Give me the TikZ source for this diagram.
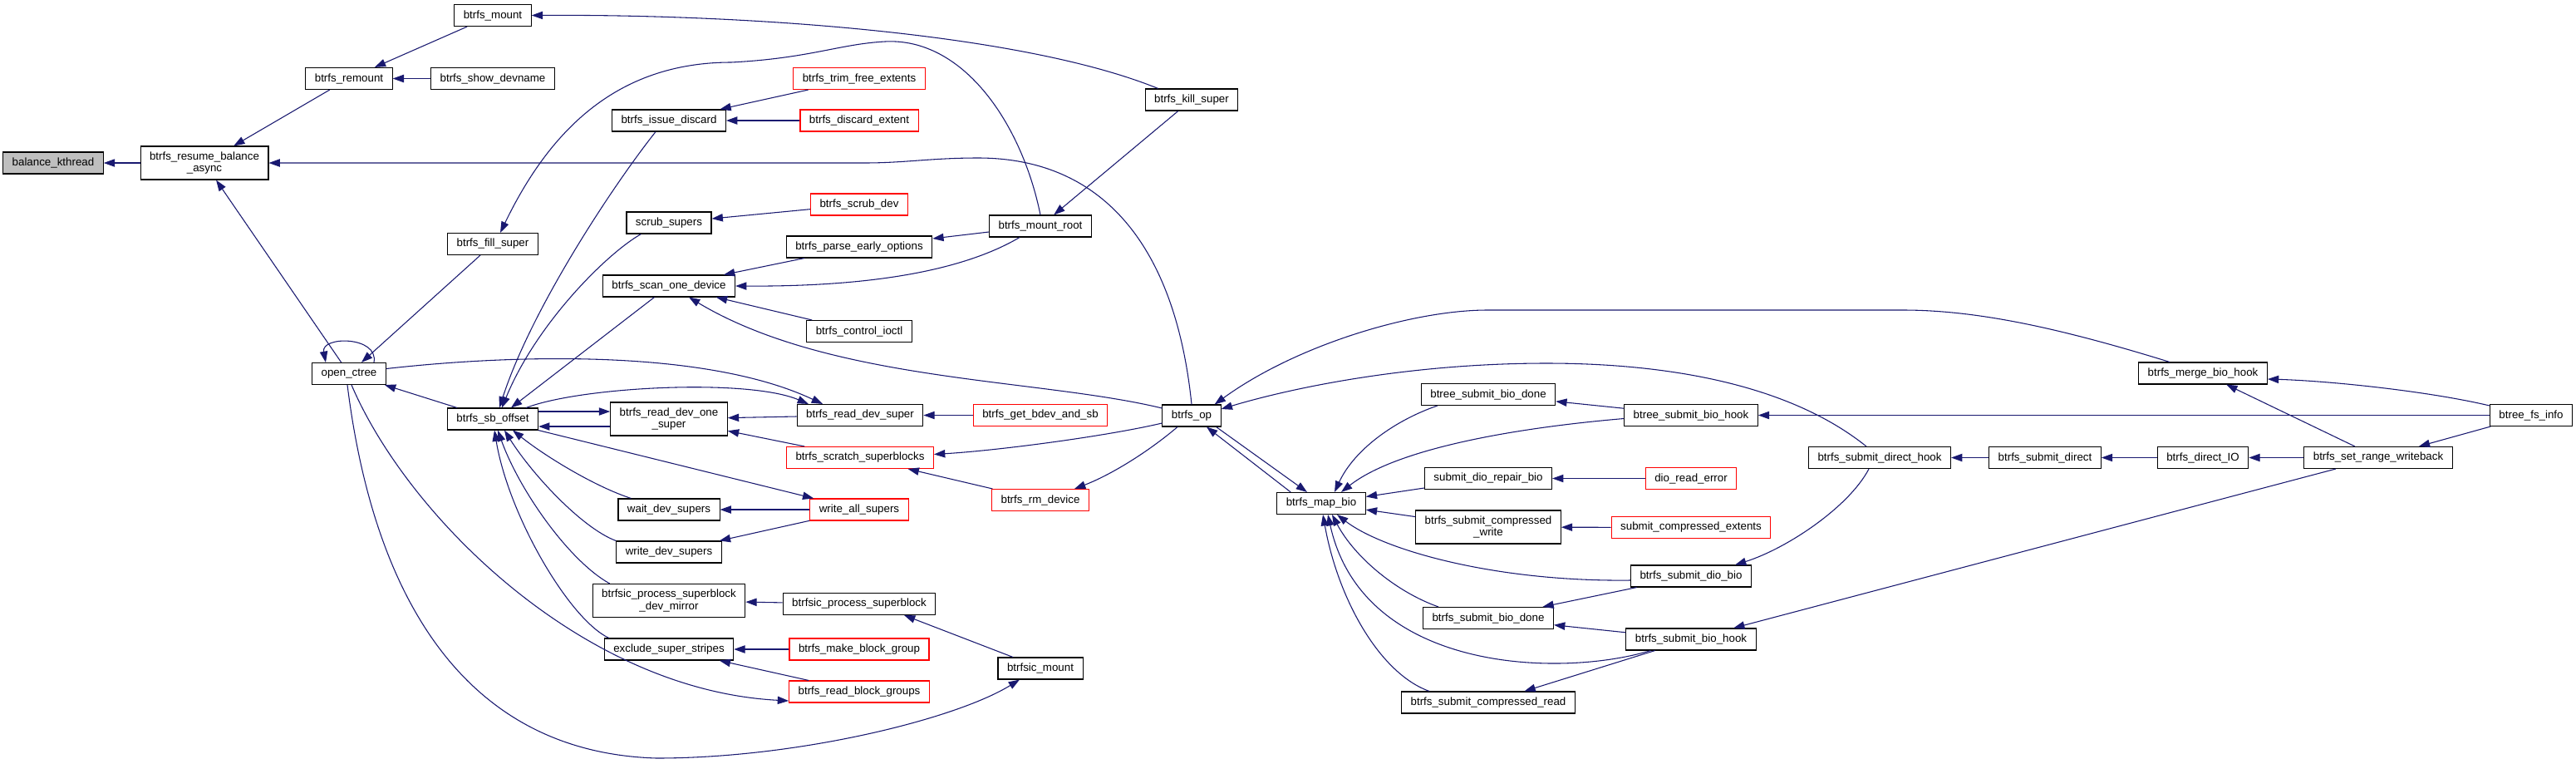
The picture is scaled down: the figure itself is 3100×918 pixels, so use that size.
\documentclass[tikz,border=0pt]{standalone}
\usepackage{fontspec}
\setmainfont{Liberation Sans}
\usetikzlibrary{positioning, arrows.meta, calc}
\definecolor{edgeblue}{HTML}{191970}
\definecolor{rootgray}{HTML}{BFBFBF}

\begin{document}
\begin{tikzpicture}[x=0.75pt, y=-0.75pt,
  every node/.style={font=\fontsize{10}{10.7}\selectfont, align=center},
  fn/.style={rectangle, draw=black, fill=white, line width=0.8pt,
             minimum height=19.5pt, inner xsep=8.25pt, inner ysep=1pt},
  fnred/.style={fn, draw=red},
  fnroot/.style={fn, fill=rootgray},
  twoline/.style={minimum height=30pt},
  call/.style={-{Triangle[length=10pt, width=7pt]}, edgeblue, line width=0.8pt}
]
\path[use as bounding box, fill=white] (0,0) rectangle (3100,918);

% columns, left to right
\node[fnroot] (kth) at (64,196) {balance\_kthread};
\node[fn, twoline] (resume) at (246,196) {btrfs\_resume\_balance\\\_async};
\node[fn] (remount) at (420,94.5) {btrfs\_remount};
\node[fn] (ctree) at (420,449.5) {open\_ctree};
\node[fn] (mount) at (593,18.5) {btrfs\_mount};
\node[fn] (showdev) at (593,94.5) {btrfs\_show\_devname};
\node[fn] (fillsup) at (593,293.5) {btrfs\_fill\_super};
\node[fn] (sboff) at (593,504) {btrfs\_sb\_offset};

\node[fn] (issue) at (805,145) {btrfs\_issue\_discard};
\node[fn] (scrubsup) at (805,268) {scrub\_supers};
\node[fn] (scan) at (805,344) {btrfs\_scan\_one\_device};
\node[fn, twoline] (rdone) at (805,504) {btrfs\_read\_dev\_one\\\_super};
\node[fn] (waitsup) at (805,613) {wait\_dev\_supers};
\node[fn] (wdev) at (805,664) {write\_dev\_supers};
\node[fn, twoline] (mirror) at (805,722.5) {btrfsic\_process\_superblock\\\_dev\_mirror};
\node[fn] (exclude) at (805,781) {exclude\_super\_stripes};

\node[fnred] (trim) at (1034,94.5) {btrfs\_trim\_free\_extents};
\node[fnred] (discext) at (1034,145) {btrfs\_discard\_extent};
\node[fnred] (scrubdev) at (1034,246) {btrfs\_scrub\_dev};
\node[fn] (parse) at (1034,297) {btrfs\_parse\_early\_options};
\node[fn] (ctl) at (1034,398.5) {btrfs\_control\_ioctl};
\node[fn] (rdsup) at (1035,499.5) {btrfs\_read\_dev\_super};
\node[fnred] (scratch) at (1035,550.5) {btrfs\_scratch\_superblocks};
\node[fnred] (wall) at (1034,613) {write\_all\_supers};
\node[fn] (psb) at (1034,726.5) {btrfsic\_process\_superblock};
\node[fnred] (mkbg) at (1034,781) {btrfs\_make\_block\_group};
\node[fnred] (rbg) at (1034,832) {btrfs\_read\_block\_groups};

\node[fn] (mroot) at (1252,272) {btrfs\_mount\_root};
\node[fnred] (getbdev) at (1252,499.5) {btrfs\_get\_bdev\_and\_sb};
\node[fnred] (rmdev) at (1252,601.5) {btrfs\_rm\_device};
\node[fn] (icmount) at (1252,804) {btrfsic\_mount};

\node[fn] (kill) at (1434,120) {btrfs\_kill\_super};
\node[fn] (op) at (1434,500) {btrfs\_op};
\node[fn] (mapbio) at (1590,605.5) {btrfs\_map\_bio};

\node[fn] (bdone) at (1791,474.5) {btree\_submit\_bio\_done};
\node[fn] (repair) at (1791,575.5) {submit\_dio\_repair\_bio};
\node[fn, twoline] (cwrite) at (1791,634) {btrfs\_submit\_compressed\\\_write};
\node[fn] (sbdone) at (1791,743.5) {btrfs\_submit\_bio\_done};
\node[fn] (cread) at (1791,845) {btrfs\_submit\_compressed\_read};

\node[fn] (bhook) at (2035,499.5) {btree\_submit\_bio\_hook};
\node[fnred] (dioerr) at (2035,575.5) {dio\_read\_error};
\node[fnred] (cext) at (2035,634.5) {submit\_compressed\_extents};
\node[fn] (diobio) at (2035,693) {btrfs\_submit\_dio\_bio};
\node[fn] (sbhook) at (2035,769) {btrfs\_submit\_bio\_hook};

\node[fn] (dhook) at (2262,550.5) {btrfs\_submit\_direct\_hook};
\node[fn] (sdirect) at (2461,550.5) {btrfs\_submit\_direct};
\node[fn] (merge) at (2651,449) {btrfs\_merge\_bio\_hook};
\node[fn] (dio) at (2651,550.5) {btrfs\_direct\_IO};
\node[fn] (setrange) at (2862,550.5) {btrfs\_set\_range\_writeback};
\node[fn] (fsinfo) at (3046,499.5) {btree\_fs\_info};

% left part
\draw[call] (resume) -- (kth);
\draw[call] (remount) -- (resume);
\draw[call] (mount) -- (remount);
\draw[call] (showdev) -- (remount);
\draw[call] (ctree) -- (resume);
\draw[call] ($(kill.north west)+(16,0)$) .. controls (1230,40) and (900,17) .. (mount.east);
\draw[call] (fillsup) -- (ctree);
\draw[call] ($(ctree.north)+(30,0)$) .. controls +(6,-32) and +(-6,-32) .. ($(ctree.north)+(-28,0)$);
\draw[call] (mroot.north) .. controls (1230,150) and (1160,45) .. (1065,50)
  .. controls (1010,53) and (975,70) .. (880,75)
  .. controls (740,75) and (660,160) .. ($(fillsup.north)+(9,0)$);
\draw[call] (kill) -- (mroot);
\draw[call] (op.north) .. controls (1415,300) and (1330,190) .. (1177,190)
  .. controls (1120,190) and (1090,196) .. (1040,196) -- (resume.east);

% around btrfs_sb_offset
\draw[call] ($(sboff.east)+(0,-9)$) -- ($(rdone.west)+(0,-9)$);
\draw[call] ($(rdone.west)+(0,9)$) -- ($(sboff.east)+(0,9)$);
\draw[call] ($(sboff.north east)+(-15,0)$) .. controls (700,465) and (900,455) .. ($(rdsup.north)+(-62,0)$);
\draw[call] ($(ctree.east)+(0,-6)$) .. controls (620,426) and (850,420) .. ($(rdsup.north)+(-45,0)$);
\draw[call] (sboff) -- (wall);
\draw[call] ($(issue.south)+(-16,0)$) .. controls (740,220) and (640,370) .. ($(sboff.north)+(8,0)$);
\draw[call] ($(scrubsup.south west)+(18,0)$) .. controls (730,305) and (645,390) .. ($(sboff.north)+(11,0)$);
\draw[call] (scan) -- ($(sboff.north)+(22,0)$);
\draw[call] (sboff) -- (ctree);
\draw[call] (rdsup) -- (rdone);
\draw[call] (getbdev) -- (rdsup);
\draw[call] (scratch) -- (rdone);
\draw[call] ($(op.west)+(0,9)$) .. controls (1330,525) and (1200,542) .. ($(scratch.east)+(0,-4)$);
\draw[call] ($(op.south)+(-17,0)$) .. controls (1380,545) and (1335,572) .. ($(rmdev.north)+(41,0)$);
\draw[call] (rmdev) -- (scratch);
\draw[call] (wall) -- (waitsup);
\draw[call] (wall) -- (wdev);
\draw[call] ($(waitsup.north west)+(16,0)$) .. controls (715,585) and (655,548) .. ($(sboff.south)+(24,0)$);
\draw[call] (wdev.north west) .. controls (700,635) and (640,570) .. ($(sboff.south)+(14,0)$);
\draw[call] ($(mirror.north west)+(21,0)$) .. controls (685,675) and (625,590) .. ($(sboff.south)+(6,0)$);
\draw[call] ($(exclude.north west)+(6,0)$) .. controls (685,745) and (612,620) .. ($(sboff.south)+(2,0)$);
\draw[call] (psb) -- (mirror);
\draw[call] ($(icmount.north)+(-33,0)$) -- ($(psb.south)+(54,0)$);
\draw[call] (mkbg) -- (exclude);
\draw[call] (rbg) -- (exclude);
\draw[call] ($(ctree.south)+(3,0)$) .. controls (490,620) and (700,830) .. ($(rbg.west)+(0,11)$);
\draw[call] ($(ctree.south)+(-2,0)$) .. controls (450,720) and (560,905) .. (790,912)
  .. controls (960,912) and (1150,865) .. ($(icmount.south)+(-25,0)$);

% upper middle
\draw[call] (trim) -- (issue);
\draw[call] (discext) -- (issue);
\draw[call] (scrubdev) -- (scrubsup);
\draw[call] ($(mroot.west)+(0,7)$) -- ($(parse.east)+(0,-10)$);
\draw[call] ($(mroot.south)+(-25,0)$) .. controls (1160,325) and (1050,345) .. (scan.east);
\draw[call] (parse) -- (scan);
\draw[call] (ctl) -- (scan);
\draw[call] ($(op.west)+(0,-9)$) .. controls (1250,455) and (1000,460) .. ($(scan.south)+(24,0)$);

% btrfs_op and btrfs_map_bio
\draw[call] ($(mapbio.north west)+(17,0)$) -- ($(op.south)+(18,0)$);
\draw[call] ($(op.south east)+(-6,0)$) -- ($(mapbio.north)+(-17,0)$);
\draw[call] ($(merge.north)+(-40,0)$) .. controls (2480,395) and (2380,373) .. (2290,373) -- (1790,373)
  .. controls (1700,373) and (1560,415) .. ($(op.north east)+(-8,0)$);
\draw[call] ($(dhook.north)+(-16,0)$) .. controls (2150,460) and (2000,437) .. (1861,437)
  .. controls (1700,437) and (1560,465) .. ($(op.east)+(0,-8)$);
\draw[call] ($(bdone.south west)+(20,0)$) .. controls (1680,505) and (1630,540) .. ($(mapbio.north)+(16,0)$);
\draw[call] (bhook) -- (bdone);
\draw[call] ($(bhook.west)+(0,4)$) .. controls (1820,515) and (1680,540) .. ($(mapbio.north)+(24,0)$);
\draw[call] (fsinfo) -- (bhook);
\draw[call] (repair) -- (mapbio);
\draw[call] (dioerr) -- (repair);
\draw[call] (cwrite) -- (mapbio);
\draw[call] (cext) -- (cwrite);
\draw[call] ($(diobio.west)+(0,5)$) .. controls (1800,700) and (1665,662) .. ($(mapbio.south)+(19,0)$);
\draw[call] (diobio) -- (sbdone);
\draw[call] ($(dhook.south)+(-13,0)$) .. controls (2225,610) and (2150,660) .. ($(diobio.north)+(53,0)$);
\draw[call] ($(sbdone.north west)+(19,0)$) .. controls (1680,712) and (1630,670) .. ($(mapbio.south)+(13,0)$);
\draw[call] (sbhook) -- (sbdone);
\draw[call] ($(sbhook.south west)+(30,0)$) .. controls (1880,815) and (1640,810) .. ($(mapbio.south)+(8,0)$);
\draw[call] (sbhook) -- (cread);
\draw[call] ($(cread.north west)+(34,0)$) .. controls (1660,810) and (1610,720) .. ($(mapbio.south)+(2,0)$);
\draw[call] (setrange) -- (sbhook);

% right part
\draw[call] (sdirect) -- (dhook);
\draw[call] (dio) -- (sdirect);
\draw[call] (setrange) -- (dio);
\draw[call] (setrange) -- (merge);
\draw[call] ($(fsinfo.north west)+(0,2)$) .. controls (2920,470) and (2800,458) .. ($(merge.east)+(0,7)$);
\draw[call] (fsinfo) -- (setrange);
\end{tikzpicture}
\end{document}
